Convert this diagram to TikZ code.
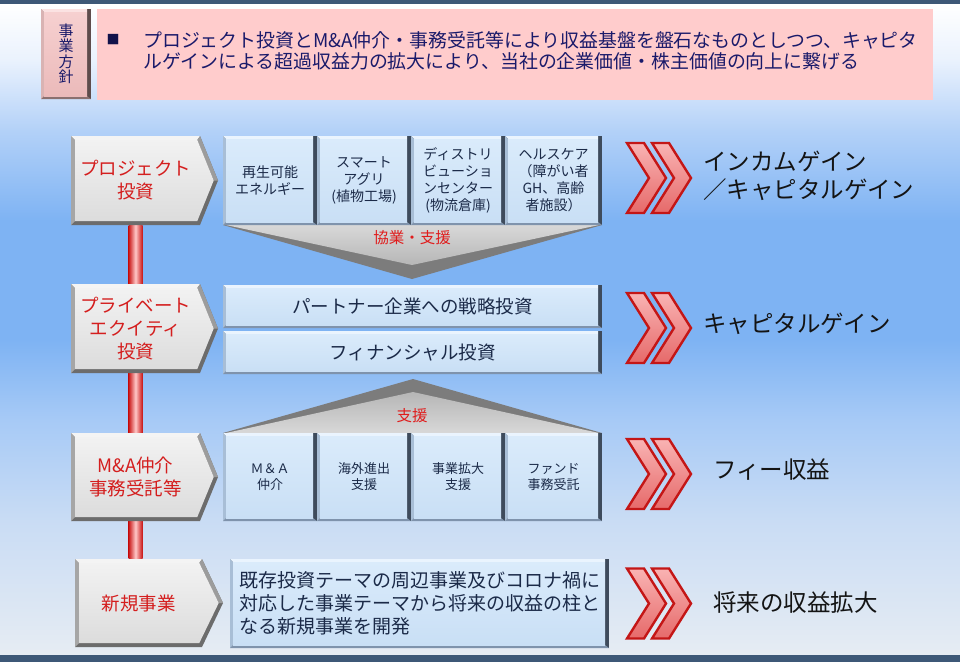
\documentclass[tikz,border=0pt]{standalone}
\usepackage{fontspec}
\setmainfont{Noto Sans CJK JP}
\usetikzlibrary{calc}
\pgfdeclarelayer{bg}
\pgfsetlayers{bg,main}
\definecolor{topbar}{HTML}{3D5877}
\definecolor{bgA}{HTML}{EAF2FD}
\definecolor{bgB}{HTML}{B3D1F8}
\definecolor{bgC}{HTML}{7EB3F3}
\definecolor{bgD}{HTML}{A7CAF6}
\definecolor{bgE}{HTML}{C9DCF4}
\definecolor{bgF}{HTML}{E6ECF3}
\definecolor{pinkbg}{HTML}{FFCCCC}
\definecolor{navy}{HTML}{1A1A6A}
\definecolor{navyd}{HTML}{12124A}
\definecolor{boxtext}{HTML}{1B2A48}
\definecolor{redtext}{HTML}{D41E1E}
\definecolor{wedgered}{HTML}{E01C1C}
\definecolor{gaintext}{HTML}{141414}
% blue bevel palette
\definecolor{blT}{HTML}{EAF4FE}
\definecolor{blL}{HTML}{A8BED6}
\definecolor{blR}{HTML}{3E4B5C}
\definecolor{blB}{HTML}{7F93AC}
\definecolor{blF}{HTML}{DAEBFB}
\definecolor{blG}{HTML}{C9DFF5}
% pink bevel palette
\definecolor{pkT}{HTML}{FBE2E2}
\definecolor{pkL}{HTML}{D9B3B3}
\definecolor{pkR}{HTML}{5E4C4C}
\definecolor{pkB}{HTML}{8B7070}
\definecolor{pkF}{HTML}{F6D0D0}
\definecolor{pkG}{HTML}{EBBABA}
% gray bevel palette
\definecolor{gyT}{HTML}{F4F4F4}
\definecolor{gyL}{HTML}{A6A6A6}
\definecolor{gyS}{HTML}{9C9C9C}
\definecolor{gyR}{HTML}{6C6C6C}
\definecolor{gyF}{HTML}{F2F2F2}
\definecolor{gyG}{HTML}{DCDCDC}
% wedges
\definecolor{wdark}{HTML}{7C7C7C}
\definecolor{wfaceA}{HTML}{D8D8D8}
\definecolor{wfaceB}{HTML}{B6B6B6}
% bar
\definecolor{barR}{HTML}{C81414}
\definecolor{barL}{HTML}{FFC8C8}
% chevrons
\definecolor{chevA}{HTML}{F9B3B3}
\definecolor{chevB}{HTML}{E66A6A}
\definecolor{chevD}{HTML}{C41616}

\tikzset{
  pentlabel/.style={align=center, text=redtext, font=\fontsize{18.5}{23}\selectfont},
  boxlabel/.style={align=center, text=boxtext, font=\fontsize{14}{17}\selectfont},
  boxlabelsm/.style={align=center, text=boxtext, font=\fontsize{13}{16}\selectfont},
  boxlabelmd/.style={align=center, text=boxtext, font=\fontsize{18.5}{21}\selectfont},
  desclabel/.style={align=left, text=boxtext, font=\fontsize{19}{23}\selectfont},
  gainlabel/.style={anchor=west, align=left, text=gaintext, font=\fontsize{23.5}{28}\selectfont, inner sep=0},
  wedgelabel/.style={text=wedgered, font=\fontsize{15.5}{16}\selectfont, inner sep=0},
  chevron/.style={top color=chevA, bottom color=chevB, draw=chevD, line width=2.4pt, line join=miter},
}

\newcommand{\bevrect}[8]{%
  \fill[#6R] (#2,#3) rectangle (#4,#5);
  \fill[#6B] (#2,#5) -- (#4,#5) -- (#4-4,#5-3) -- (#2+3,#5-3) -- cycle;
  \fill[#6T] (#2,#3) -- (#4-4,#3) -- (#4-4,#3+3) -- (#2+3,#3+3) -- cycle;
  \fill[#6L] (#2,#3) -- (#2+3,#3+3) -- (#2+3,#5-3) -- (#2,#5) -- cycle;
  \shade[top color=#6F, bottom color=#6G] (#2+3,#3+3) rectangle (#4-4,#5-3);
  \node[inner sep=0, minimum width={(#4-#2)*1pt}, minimum height={(#5-#3)*1pt}, #7] (#1) at ({(#2+#4)/2},{(#3+#5)/2}) {#8};
}

\newcommand{\bevpent}[7]{%
  \fill[gyR] (#2,#3) -- (#4,#3) -- (#5,{(#3+#6)/2}) -- (#4,#6) -- (#2,#6) -- cycle;
  \fill[gyT] (#2,#3) -- (#4,#3) -- (#4-2.7,#3+4) -- (#2+4,#3+4) -- cycle;
  \fill[gyS] (#4,#3) -- (#5,{(#3+#6)/2}) -- (#5-4.3,{(#3+#6)/2}) -- (#4-2.7,#3+4) -- cycle;
  \fill[gyL] (#2,#3) -- (#2+4,#3+4) -- (#2+4,#6-4) -- (#2,#6) -- cycle;
  \shade[top color=gyF, bottom color=gyG] (#2+4,#3+4) -- (#4-2.7,#3+4) -- (#5-4.3,{(#3+#6)/2}) -- (#4-2.7,#6-4) -- (#2+4,#6-4) -- cycle;
  \node[pentlabel, inner sep=0, minimum width={(#4-#2)*1pt}, minimum height={(#6-#3)*1pt}] (#1) at ({(#2+#4)/2},{(#3+#6)/2}) {#7};
}

\newcommand{\chevpair}[2]{%
  \foreach \dx in {0,25}{%
    \shadedraw[chevron] (#1+\dx,#2-35) -- ++(17,0) -- ++(22,35) -- ++(-22,35) -- ++(-17,0) -- ++(22,-35) -- cycle;
  }%
}

\begin{document}
\begin{tikzpicture}[x=1pt,y=-1pt]
\useasboundingbox (0,0) rectangle (960,662);
% ---------- background ----------
\begin{pgfonlayer}{bg}
\shade[top color=white, bottom color=bgA] (0,3.5) rectangle (960,60.5);
\shade[top color=bgA, bottom color=bgB] (0,60) rectangle (960,130.5);
\shade[top color=bgB, bottom color=bgC] (0,130) rectangle (960,220.5);
\fill[bgC] (0,220) rectangle (960,340.5);
\shade[top color=bgC, bottom color=bgD] (0,340) rectangle (960,420.5);
\shade[top color=bgD, bottom color=bgE] (0,420) rectangle (960,520.5);
\shade[top color=bgE, bottom color=bgF] (0,520) rectangle (960,655.5);
\fill[topbar] (0,0) rectangle (960,4);
\fill[topbar] (0,655) rectangle (960,662);
\end{pgfonlayer}

% ---------- header ----------
\bevrect{hoshin}{41}{9}{91}{99}{pk}{align=center, text=navy, font=\fontsize{15}{15.5}\selectfont}{事\\業\\方\\針}
\fill[pinkbg] (97,9) rectangle (933,100);
\node[text=navyd, font=\fontsize{13}{13}\selectfont, inner sep=0] (bullet) at (113,40) {■};
\node[anchor=west, align=left, text=navy, font=\fontsize{18.9}{21}\selectfont, inner sep=0] (policy) at (143,50.5)
  {プロジェクト投資とM\&A仲介・事務受託等により収益基盤を盤石なものとしつつ、キャピタ\\ルゲインによる超過収益力の拡大により、当社の企業価値・株主価値の向上に繋げる};

% ---------- wedges ----------
\fill[wdark] (223,225) -- (602,225) -- (412,279) -- cycle;
\shade[top color=wfaceA, bottom color=wfaceB] (226,225) -- (599,225) -- (412,265) -- cycle;
\fill[wdark] (413,379) -- (602,433) -- (223,433) -- cycle;
\shade[top color=wfaceB, bottom color=wfaceA] (413,392) -- (599,433) -- (226,433) -- cycle;
\node[wedgelabel] (w1) at (412,238) {協業・支援};
\node[wedgelabel] (w2) at (412,416) {支援};

% ---------- row 1 ----------
\bevpent{p1}{71}{136}{200}{218}{225}{プロジェクト\\投資}
\bevrect{b11}{223}{136}{317}{225}{bl}{boxlabel}{再生可能\\エネルギー}
\bevrect{b12}{317}{136}{411}{225}{bl}{boxlabel}{スマート\\アグリ\\(植物工場)}
\bevrect{b13}{411}{136}{505}{225}{bl}{boxlabel}{ディストリ\\ビューショ\\ンセンター\\(物流倉庫)}
\bevrect{b14}{505}{136}{602}{225}{bl}{boxlabel}{ヘルスケア\\（障がい者\\GH、高齢\\者施設）}

% ---------- row 2 ----------
\bevpent{p2}{71}{284}{200}{218}{373}{プライベート\\エクイティ\\投資}
\bevrect{b21}{223}{285}{602}{328}{bl}{boxlabelmd}{パートナー企業への戦略投資}
\bevrect{b22}{223}{331}{602}{374}{bl}{boxlabelmd}{フィナンシャル投資}

% ---------- row 3 ----------
\bevpent{p3}{71}{433}{200}{218}{521}{M\&A仲介\\事務受託等}
\bevrect{b31}{223}{433}{317}{521}{bl}{boxlabelsm}{Ｍ＆Ａ\\仲介}
\bevrect{b32}{317}{433}{411}{521}{bl}{boxlabelsm}{海外進出\\支援}
\bevrect{b33}{411}{433}{505}{521}{bl}{boxlabelsm}{事業拡大\\支援}
\bevrect{b34}{505}{433}{602}{521}{bl}{boxlabelsm}{ファンド\\事務受託}

% ---------- row 4 ----------
\bevpent{p4}{75}{559}{202}{223}{647}{新規事業}
\bevrect{b41}{230}{559}{609}{648}{bl}{desclabel}{既存投資テーマの周辺事業及びコロナ禍に\\対応した事業テーマから将来の収益の柱と\\なる新規事業を開発}

% ---------- connector bar ----------
\begin{pgfonlayer}{bg}
\shade[left color=barR, right color=barR, middle color=barL]
  ([xshift=-7pt]p1.south) rectangle ([xshift=7pt]p1.south |- p4.north);
\end{pgfonlayer}

% ---------- chevrons and gains ----------
\chevpair{627}{178}
\chevpair{627}{328}
\chevpair{627}{474}
\chevpair{627}{603.5}
\node[gainlabel] (g1) at (703,176) {インカムゲイン\\／キャピタルゲイン};
\node[gainlabel] (g2) at (703,324) {キャピタルゲイン};
\node[gainlabel] (g3) at (713,470) {フィー収益};
\node[gainlabel] (g4) at (713,603) {将来の収益拡大};
\end{tikzpicture}
\end{document}
